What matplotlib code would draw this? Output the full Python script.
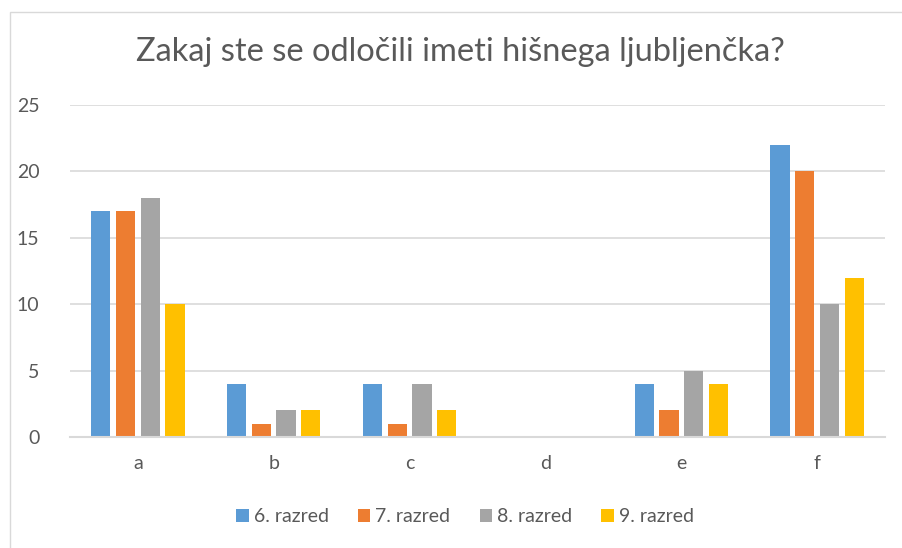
import matplotlib
matplotlib.use("Agg")
import matplotlib.pyplot as plt
import numpy as np
from matplotlib.patches import Rectangle

categories = ["a", "b", "c", "d", "e", "f"]
series_names = ["6. razred", "7. razred", "8. razred", "9. razred"]
r6 = [17, 4, 4, 0, 4, 22]
r7 = [17, 1, 1, 0, 2, 20]
r8 = [18, 2, 4, 0, 5, 10]
r9 = [10, 2, 2, 0, 4, 12]
colors = ["#5B9BD5", "#ED7D31", "#A5A5A5", "#FFC000"]
title = "Zakaj ste se odločili imeti hišnega ljubljenčka?"

plt.rcParams['font.family'] = ['Lato', 'DejaVu Sans']
W, H = 903, 548
fig = plt.figure(figsize=(W/100, H/100), dpi=100)
fig.patch.set_facecolor("white")

# chart border (cropped at right/bottom)
fig.add_artist(Rectangle((10/W, -0.1), 1.2, (H-12)/H + 0.1, transform=fig.transFigure,
                         fill=False, edgecolor="#D9D9D9", linewidth=1))

ax = fig.add_axes([70/W, (H-437)/H, (885-70)/W, (437-105)/H])
x = np.arange(len(categories))
pitch = 0.182
bw = 0.142
for i, (vals, c, name) in enumerate(zip([r6, r7, r8, r9], colors, series_names)):
    ax.bar(x + (i - 1.5) * pitch, vals, width=bw, color=c, label=name, zorder=3)

ax.set_xlim(-0.5, len(categories) - 0.5)
ax.set_ylim(0, 25)
ax.set_yticks([0, 5, 10, 15, 20, 25])
ax.set_xticks(x)
ax.set_xticklabels(categories)
ax.yaxis.grid(True, color="#D9D9D9", linewidth=1.2, zorder=0)
for s in ["top", "right", "left"]:
    ax.spines[s].set_visible(False)
ax.spines["bottom"].set_color("#D9D9D9")
ax.spines["bottom"].set_linewidth(1.5)
ax.spines["bottom"].set_zorder(4)
ax.tick_params(axis="both", length=0, labelsize=14, labelcolor="#595959")
ax.tick_params(axis="y", pad=22)
ax.tick_params(axis="x", pad=13)

fig.text(460/W, 1 - 52/H, title, ha="center", va="center", fontsize=23.5,
         color="#595959")

leg = fig.legend(loc="center", bbox_to_anchor=(465/W, 1 - 517/H), ncol=4, frameon=False,
                 fontsize=14, handlelength=0.65, handleheight=0.65, handletextpad=0.25,
                 columnspacing=1.5)
for t in leg.get_texts():
    t.set_color("#595959")

fig.savefig("out.png", dpi=100)
